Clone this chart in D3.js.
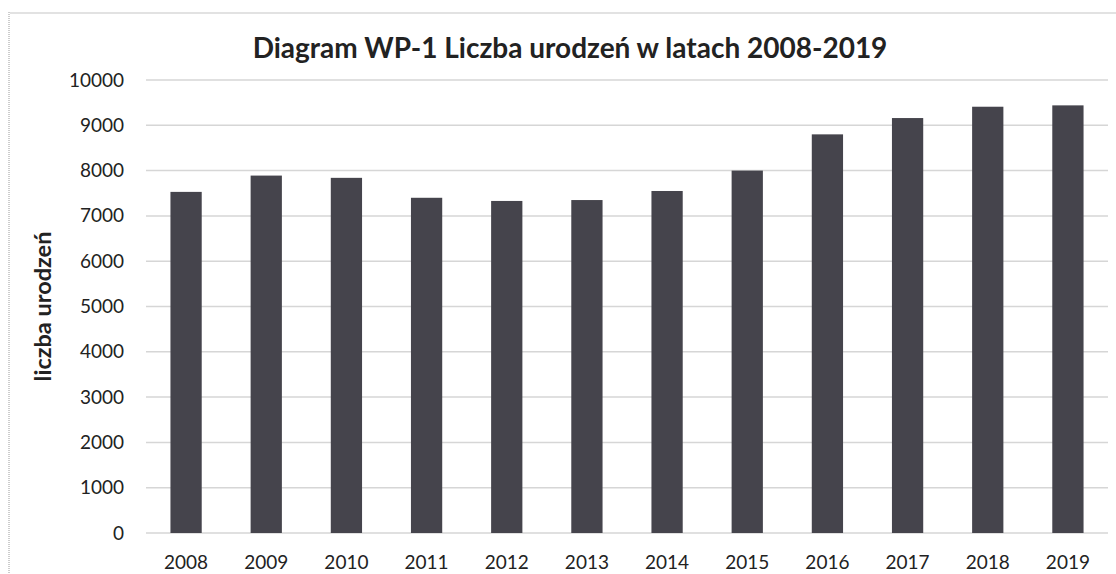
<!DOCTYPE html>
<html>
<head>
<meta charset="utf-8">
<script src="https://cdn.jsdelivr.net/npm/d3@7"></script>
<style>
  body { margin: 0; background: #fff; }
  svg { display: block; }
</style>
</head>
<body>
<div id="svg"></div>
<script>
let years = ['2008', '2009', '2010', '2011', '2012', '2013', '2014', '2015', '2016', '2017', '2018', '2019']
let births = [7530, 7890, 7840, 7400, 7330, 7350, 7550, 8000, 8800, 9160, 9410, 9440]
let yTicks = [0, 1000, 2000, 3000, 4000, 5000, 6000, 7000, 8000, 9000, 10000]

let chartTitle = 'Diagram WP-1 Liczba urodzeń w latach 2008-2019'
let yTitle = 'liczba urodzeń'

let margin = {top: 80, right: 8, bottom: 41, left: 146}
let width = 1116, height = 574

let svg = d3.select('#svg')
  .append('svg')
  .attr('width', width)
  .attr('height', height)
  .style('font-family', 'Lato, "Open Sans", sans-serif')

// frame of the scanned chart
svg.append('line')
  .attr('x1', 10).attr('x2', width)
  .attr('y1', 13).attr('y2', 13)
  .style('stroke', '#e2e2e2')
  .style('stroke-width', 2)

svg.append('line')
  .attr('x1', 9).attr('x2', 9)
  .attr('y1', 12).attr('y2', height)
  .style('stroke', '#9a9a9a')
  .style('stroke-width', 1)
  .style('stroke-dasharray', '1,1')

let xScale = d3.scaleBand()
  .domain(years)
  .range([margin.left, width - margin.right])
  .paddingInner(0.61)
  .paddingOuter(0.305)

let yScale = d3.scaleLinear()
  .domain([0, 10000])
  .range([height - margin.bottom, margin.top])

// gridlines
svg.selectAll('.grid')
  .data(yTicks)
  .join('line')
  .attr('class', 'grid')
  .attr('x1', margin.left)
  .attr('x2', width - margin.right)
  .attr('y1', d => yScale(d))
  .attr('y2', d => yScale(d))
  .style('stroke', '#d6d6d6')
  .style('stroke-width', 1.5)

svg.selectAll('.bar')
  .data(births)
  .join('rect')
  .attr('class', 'bar')
  .attr('x', (d, i) => xScale(years[i]))
  .attr('width', xScale.bandwidth())
  .attr('y', d => yScale(d))
  .attr('height', d => yScale(0) - yScale(d))
  .style('fill', '#45444c')

let yAxis = svg.append('g')
  .attr('transform', `translate(${margin.left}, 0)`)
  .call(d3.axisLeft(yScale).tickValues(yTicks).tickSize(0).tickPadding(22).tickFormat(d3.format('d')))
yAxis.select('.domain').remove()
yAxis.selectAll('text')
  .style('font-size', '19px')
  .style('fill', '#222')
  .style('font-family', 'Lato, sans-serif')

let xAxis = svg.append('g')
  .attr('transform', `translate(0, ${yScale(0)})`)
  .call(d3.axisBottom(xScale).tickSize(0).tickPadding(23))
xAxis.select('.domain').remove()
xAxis.selectAll('text')
  .style('font-size', '19px')
  .style('fill', '#222')
  .style('font-family', 'Lato, sans-serif')

svg.append('text')
  .text(chartTitle)
  .attr('x', 570)
  .attr('y', 58)
  .style('text-anchor', 'middle')
  .style('font-size', '28px')
  .style('font-weight', 'bold')
  .style('fill', '#222')

svg.append('text')
  .text(yTitle)
  .attr('transform', `translate(51, ${(yScale(0) + yScale(10000)) / 2})rotate(-90)`)
  .style('text-anchor', 'middle')
  .style('font-size', '23.5px')
  .style('font-weight', 'bold')
  .style('fill', '#222')
</script>
</body>
</html>
